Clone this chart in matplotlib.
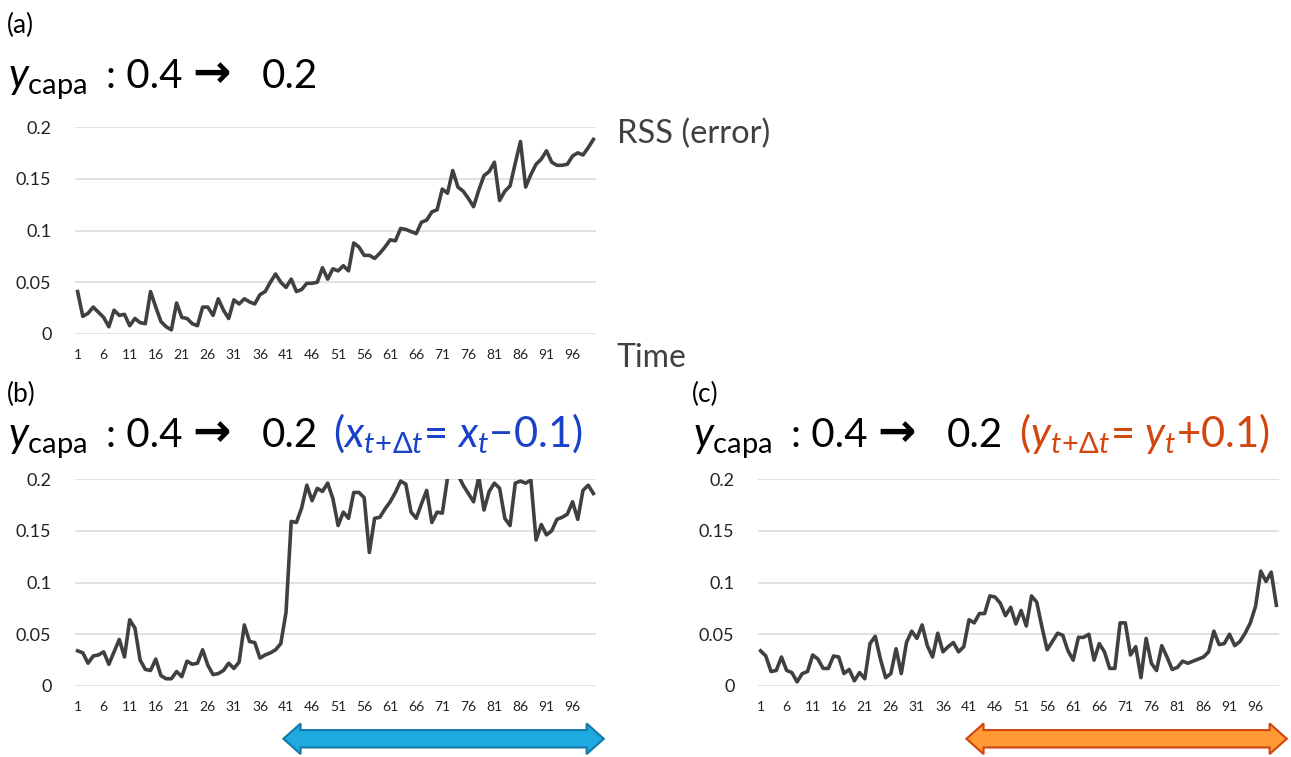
import numpy as np
import matplotlib.pyplot as plt
from matplotlib.patches import Polygon
from matplotlib.transforms import blended_transform_factory

plt.rcParams['font.family'] = ['Lato', 'DejaVu Sans']
plt.rcParams['mathtext.fontset'] = 'custom'
plt.rcParams['mathtext.rm'] = 'Lato'
plt.rcParams['mathtext.it'] = 'Lato:italic'
plt.rcParams['mathtext.fallback'] = 'stixsans'

# RSS error over time, three runs (y_capa dropped from 0.4 to 0.2)
time = np.arange(1, 101)

rss_a = [0.041, 0.017, 0.020, 0.026, 0.021, 0.016, 0.007, 0.023, 0.018, 0.019,
         0.008, 0.015, 0.011, 0.010, 0.041, 0.026, 0.012, 0.007, 0.004, 0.030,
         0.016, 0.015, 0.010, 0.008, 0.026, 0.026, 0.018, 0.034, 0.023, 0.015,
         0.033, 0.029, 0.034, 0.031, 0.029, 0.038, 0.041, 0.050, 0.058, 0.050,
         0.045, 0.053, 0.041, 0.043, 0.049, 0.049, 0.050, 0.064, 0.053, 0.063,
         0.061, 0.066, 0.061, 0.088, 0.084, 0.076, 0.076, 0.073, 0.078, 0.084,
         0.091, 0.090, 0.102, 0.101, 0.099, 0.097, 0.108, 0.110, 0.118, 0.120,
         0.140, 0.136, 0.158, 0.142, 0.138, 0.131, 0.123, 0.139, 0.153, 0.157,
         0.166, 0.129, 0.138, 0.143, 0.165, 0.186, 0.142, 0.154, 0.164, 0.169,
         0.177, 0.166, 0.163, 0.163, 0.164, 0.172, 0.175, 0.173, 0.180, 0.188]

# x shifted by -0.1
rss_b = [0.034, 0.032, 0.022, 0.029, 0.030, 0.033, 0.021, 0.033, 0.045, 0.028,
         0.064, 0.056, 0.025, 0.016, 0.015, 0.026, 0.010, 0.007, 0.007, 0.014,
         0.009, 0.024, 0.021, 0.022, 0.035, 0.020, 0.011, 0.012, 0.015, 0.022,
         0.017, 0.023, 0.059, 0.043, 0.042, 0.027, 0.030, 0.032, 0.035, 0.041,
         0.071, 0.159, 0.158, 0.172, 0.194, 0.179, 0.191, 0.188, 0.196, 0.181,
         0.155, 0.168, 0.162, 0.187, 0.187, 0.182, 0.129, 0.162, 0.163, 0.171,
         0.178, 0.187, 0.198, 0.195, 0.168, 0.162, 0.176, 0.189, 0.158, 0.168,
         0.167, 0.201, 0.215, 0.204, 0.194, 0.186, 0.178, 0.202, 0.170, 0.188,
         0.196, 0.191, 0.162, 0.155, 0.196, 0.198, 0.196, 0.199, 0.141, 0.156,
         0.146, 0.150, 0.161, 0.163, 0.166, 0.178, 0.161, 0.189, 0.194, 0.186]

# y shifted by +0.1
rss_c = [0.034, 0.029, 0.014, 0.015, 0.028, 0.015, 0.013, 0.004, 0.012, 0.014,
         0.030, 0.026, 0.017, 0.017, 0.029, 0.028, 0.012, 0.016, 0.005, 0.013,
         0.007, 0.041, 0.048, 0.026, 0.008, 0.012, 0.036, 0.012, 0.042, 0.053,
         0.046, 0.059, 0.039, 0.028, 0.051, 0.033, 0.038, 0.042, 0.033, 0.038,
         0.064, 0.061, 0.070, 0.070, 0.087, 0.086, 0.080, 0.068, 0.076, 0.060,
         0.073, 0.058, 0.087, 0.081, 0.057, 0.035, 0.043, 0.051, 0.049, 0.034,
         0.025, 0.047, 0.047, 0.050, 0.025, 0.041, 0.033, 0.017, 0.017, 0.061,
         0.061, 0.030, 0.038, 0.008, 0.046, 0.022, 0.015, 0.039, 0.028, 0.016,
         0.018, 0.024, 0.022, 0.024, 0.026, 0.028, 0.033, 0.053, 0.040, 0.041,
         0.050, 0.039, 0.043, 0.051, 0.061, 0.077, 0.111, 0.101, 0.110, 0.078]

x_ticks = list(range(1, 101, 5))
y_ticks = [0, 0.05, 0.1, 0.15, 0.2]
y_tick_labels = ['0', '0.05', '0.1', '0.15', '0.2']

# period after the shift, marked under panels b and c
shift_span = (40.5, 102)

W, H = 1291, 757
fig = plt.figure(figsize=(W / 100, H / 100), dpi=100)


def px_text(x, y, s, **kw):
    # place text by pixel position (origin top-left), y is the baseline
    return fig.text(x / W, 1 - y / H, s, va='baseline', **kw)


def make_panel(left, top, series):
    bottom = top + 207
    ax = fig.add_axes([left / W, 1 - bottom / H, 521 / W, 207 / H])
    ax.plot(time, series, color='#404040', lw=2.6, solid_joinstyle='round')
    ax.set_xlim(0.5, 100.5)
    ax.set_ylim(0, 0.2)
    ax.set_xticks(x_ticks)
    ax.set_xticklabels([str(t) for t in x_ticks], fontsize=10, color='#222222')
    ax.set_yticks(y_ticks)
    ax.set_yticklabels(y_tick_labels, fontsize=13, color='#222222')
    ax.tick_params(axis='x', length=0, pad=11)
    ax.tick_params(axis='y', length=0, pad=17)
    ax.grid(axis='y', color='#d9d9d9', lw=1.1)
    ax.set_axisbelow(True)
    for sp in ax.spines.values():
        sp.set_visible(False)
    return ax


def shift_arrow(ax, face, edge):
    trans = blended_transform_factory(ax.transData, ax.transAxes)
    x0, x1 = shift_span
    yc, hh, sh, head = -0.255, 0.074, 0.042, 3.3
    pts = [(x0, yc), (x0 + head, yc + hh), (x0 + head, yc + sh),
           (x1 - head, yc + sh), (x1 - head, yc + hh), (x1, yc),
           (x1 - head, yc - hh), (x1 - head, yc - sh), (x0 + head, yc - sh),
           (x0 + head, yc - hh)]
    ax.add_patch(Polygon(pts, closed=True, transform=trans, clip_on=False,
                         facecolor=face, edgecolor=edge, lw=1.5))


ax_a = make_panel(75, 127, rss_a)
ax_b = make_panel(75, 479, rss_b)
ax_c = make_panel(758, 479, rss_c)

shift_arrow(ax_b, '#1eaae0', '#1479a8')
shift_arrow(ax_c, '#ff9a35', '#d04410')

ax_a.text(1.04, 0.965, 'RSS (error)', transform=ax_a.transAxes, fontsize=23.5,
          color='#404040', va='center', ha='left')
ax_a.text(1.04, -0.115, 'Time', transform=ax_a.transAxes, fontsize=23,
          color='#404040', va='center', ha='left')

# panel headings
blue = '#1a42c8'
red = '#d4460f'
for lab, x, y in [('(a)', 7, 33), ('(b)', 7, 402), ('(c)', 692, 402)]:
    px_text(x, y, lab, fontsize=19)

for x, y in [(8, 88), (8, 447), (693, 447)]:
    px_text(x, y, r'$y_{\mathrm{capa}}$', fontsize=30)
    px_text(x + 98, y, ': 0.4', fontsize=29)
    px_text(x + 184, y - 1, '\u2192', fontsize=33, fontweight='bold',
            family='DejaVu Sans')
    px_text(x + 254, y, '0.2', fontsize=29)

px_text(333, 447, '($x_{t\\!+\\!\\Delta t}$= $x_t$\u22120.1)',
        fontsize=30, color=blue)
px_text(1019, 447, '($y_{t\\!+\\!\\Delta t}$= $y_t$+0.1)', fontsize=30, color=red)

fig.savefig('out.png', dpi=100)
